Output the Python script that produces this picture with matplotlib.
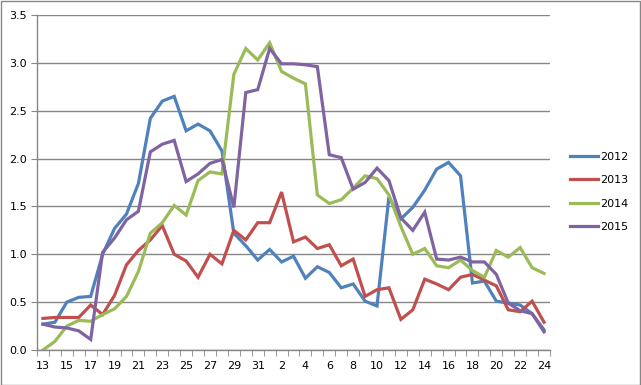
import matplotlib
matplotlib.use("Agg")
import matplotlib.pyplot as plt
from matplotlib.patches import Rectangle
from matplotlib.ticker import FixedLocator, FormatStrFormatter

# week numbers: 13..31, then 1..24 of the next year
weeks = list(range(13, 32)) + list(range(1, 25))

y2012 = [0.27, 0.29, 0.50, 0.55, 0.56, 1.00, 1.27, 1.42, 1.74, 2.42, 2.60, 2.65, 2.29, 2.36,
         2.29, 2.08, 1.22, 1.09, 0.94, 1.05, 0.92, 0.98, 0.75, 0.87, 0.81, 0.65, 0.69, 0.51,
         0.46, 1.60, 1.37, 1.49, 1.67, 1.89, 1.96, 1.82, 0.70, 0.72, 0.51, 0.49, 0.47, 0.38, 0.21]
y2013 = [0.33, 0.34, 0.34, 0.34, 0.47, 0.37, 0.57, 0.89, 1.04, 1.15, 1.30, 1.00, 0.93, 0.76,
         1.00, 0.90, 1.25, 1.15, 1.33, 1.33, 1.65, 1.13, 1.18, 1.06, 1.10, 0.88, 0.95, 0.56,
         0.63, 0.65, 0.32, 0.42, 0.74, 0.69, 0.63, 0.76, 0.79, 0.73, 0.67, 0.42, 0.40, 0.51, 0.29]
y2014 = [0.00, 0.09, 0.25, 0.31, 0.30, 0.37, 0.43, 0.56, 0.82, 1.22, 1.33, 1.51, 1.41, 1.77,
         1.86, 1.84, 2.88, 3.15, 3.03, 3.21, 2.91, 2.84, 2.78, 1.62, 1.53, 1.57, 1.69, 1.82,
         1.79, 1.62, 1.29, 1.00, 1.06, 0.88, 0.86, 0.94, 0.83, 0.76, 1.04, 0.97, 1.07, 0.86, 0.80]
y2015 = [0.27, 0.24, 0.23, 0.20, 0.11, 1.02, 1.17, 1.36, 1.45, 2.07, 2.15, 2.19, 1.76, 1.84,
         1.95, 1.99, 1.49, 2.69, 2.72, 3.15, 2.99, 2.99, 2.98, 2.96, 2.04, 2.01, 1.68, 1.75,
         1.90, 1.77, 1.38, 1.25, 1.44, 0.95, 0.94, 0.97, 0.92, 0.92, 0.79, 0.49, 0.41, 0.38, 0.19]

series = [("2012", y2012, "#4F81BD"), ("2013", y2013, "#C0504D"),
          ("2014", y2014, "#9BBB59"), ("2015", y2015, "#8064A2")]

grey = "#868686"
plt.rcParams["font.family"] = ["DejaVu Sans"]

fig = plt.figure(figsize=(6.41, 3.85), dpi=100)
ax = fig.add_axes([37 / 641, 1 - 350 / 385, (550 - 37) / 641, (350 - 15) / 385])

x = list(range(len(weeks)))
for label, values, color in series:
    ax.plot(x, values, color=color, linewidth=2.3, label=label, solid_joinstyle="miter")

ax.set_xlim(-0.5, len(weeks) - 0.5)
ax.set_ylim(0, 3.5)

ax.set_xticks(x[::2])
ax.set_xticklabels([str(w) for w in weeks[::2]])
ax.xaxis.set_minor_locator(FixedLocator([i - 0.5 for i in range(len(weeks) + 1)]))
ax.tick_params(axis="x", which="major", length=0, pad=8, labelsize=8)
ax.tick_params(axis="x", which="minor", length=4, color=grey, direction="out")

ax.set_yticks([i * 0.5 for i in range(8)])
ax.yaxis.set_major_formatter(FormatStrFormatter("%.1f"))
ax.tick_params(axis="y", length=4, color=grey, labelsize=8, pad=3)

ax.grid(axis="y", color=grey, linewidth=1)
ax.set_axisbelow(True)
for side in ("top", "right"):
    ax.spines[side].set_visible(False)
for side in ("left", "bottom"):
    ax.spines[side].set_color(grey)
    ax.spines[side].set_linewidth(1)

fig.legend(loc="center left", bbox_to_anchor=(570 / 641, 1 - 192 / 385), frameon=False,
           fontsize=8, handlelength=2.5, handletextpad=0.2, labelspacing=1.2,
           borderpad=0, borderaxespad=0)

fig.patches.append(Rectangle((0.5 / 641, 0.5 / 385), 639.5 / 641, 383.5 / 385,
                             transform=fig.transFigure, fill=False,
                             edgecolor=grey, linewidth=1))

fig.savefig("out.png", dpi=100)
